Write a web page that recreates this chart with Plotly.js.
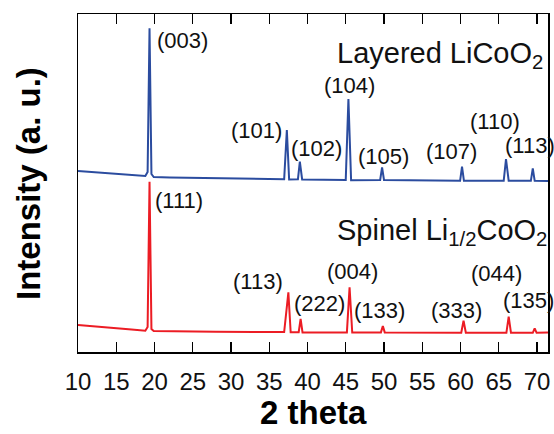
<!DOCTYPE html>
<html>
<head>
<meta charset="utf-8">
<script src="https://cdn.plot.ly/plotly-3.0.1.min.js"></script>
<style>html,body{margin:0;padding:0;background:#fff;}#chart{width:554px;height:434px;}</style>
</head>
<body>
<div id="chart"></div>
<script>
// Layered LiCoO2 pattern (2 theta, intensity a.u.)
var layeredX = [10, 12, 15, 17, 18.8, 19.1, 19.35, 19.6, 19.9, 22, 25, 30, 34, 36.95, 37.3, 37.6, 38.75, 39.0, 39.3, 42, 45.0, 45.35, 45.7, 49.5, 49.75, 50.0, 53, 54, 57, 59.95, 60.2, 60.45, 63, 65.65, 65.95, 66.3, 69.2, 69.45, 69.7, 71.44];
var layeredY = [181, 180, 178.5, 177.5, 176, 180, 323.7, 178, 175, 174.5, 174.3, 173.5, 173, 172.8, 222, 172.5, 172.7, 190.3, 172.5, 172.3, 172, 253, 171.8, 172, 184.7, 172, 171.8, 171, 171.2, 171.2, 185.3, 171.2, 171.2, 171.2, 193, 171.2, 171.2, 183.7, 171.2, 171];

// Spinel Li1/2CoO2 pattern
var spinelX = [10, 12, 15, 17, 18.8, 19.1, 19.35, 19.6, 19.9, 22, 28, 33, 36.95, 37.5, 37.8, 38.85, 39.1, 39.35, 42, 45.15, 45.5, 45.85, 49.6, 49.85, 50.1, 54, 55, 60.1, 60.4, 60.7, 66.0, 66.3, 66.6, 69.45, 69.7, 69.95, 71.44];
var spinelY = [27, 25.5, 24, 22.5, 21.3, 25, 170.3, 23, 21, 21, 20.3, 20, 20, 59.7, 19.8, 19.8, 33, 19.5, 19.6, 19.6, 64.7, 19.5, 19.6, 26, 19.6, 19.5, 19, 19.2, 31.3, 19.2, 19.2, 35.3, 19.2, 19.2, 23.7, 19.2, 19.5];

// Peak index labels
var layeredLabels = ["(003)", "(101)", "(102)", "(104)", "(105)", "(107)", "(110)", "(113)"];
var spinelLabels  = ["(111)", "(113)", "(222)", "(004)", "(133)", "(333)", "(044)", "(135)"];
var xTickVals = [10, 15, 20, 25, 30, 35, 40, 45, 50, 55, 60, 65, 70];

// label placement (data coords)
var layeredLabelPos = [[23.66, 312], [33.33, 222], [41.17, 203.7], [45.5, 267], [49.92, 195.3], [58.8, 200.3], [64.55, 230.3], [69.1, 207]];
var spinelLabelPos  = [[23.26, 152], [33.55, 70.3], [41.6, 48.7], [45.83, 80.3], [49.43, 42], [59.5, 42], [64.67, 78.7], [68.9, 52]];

var FONT = "Liberation Sans, Arial, sans-serif";
var annotations = [];
function addLabels(labels, pos) {
  for (var i = 0; i < labels.length; i++) {
    annotations.push({x: pos[i][0], y: pos[i][1], xref: 'x', yref: 'y', text: labels[i],
      showarrow: false, xanchor: 'center', yanchor: 'middle',
      font: {family: FONT, size: 22, color: '#111'}});
  }
}
addLabels(layeredLabels, layeredLabelPos);
addLabels(spinelLabels, spinelLabelPos);

annotations.push({x: 43.64, y: 297, xref: 'x', yref: 'y', text: 'Layered LiCoO<sub>2</sub>', showarrow: false,
  xanchor: 'left', yanchor: 'middle', font: {family: FONT, size: 29, color: '#111'}});
annotations.push({x: 43.64, y: 120, xref: 'x', yref: 'y', text: 'Spinel Li<sub>1/2</sub>CoO<sub>2</sub>', showarrow: false,
  xanchor: 'left', yanchor: 'middle', font: {family: FONT, size: 29, color: '#111'}});
annotations.push({x: -0.1064, y: 0.5, xref: 'paper', yref: 'paper', text: '<b>Intensity (a. u.)</b>', showarrow: false,
  textangle: -90, xanchor: 'center', yanchor: 'middle', font: {family: FONT, size: 33, color: '#000'}});
annotations.push({x: 0.5, y: -0.18, xref: 'paper', yref: 'paper', text: '<b>2 theta</b>', showarrow: false,
  xanchor: 'center', yanchor: 'middle', font: {family: FONT, size: 33, color: '#000'}});

var data = [
  {x: layeredX, y: layeredY, type: 'scatter', mode: 'lines', name: 'Layered LiCoO2',
   line: {color: '#2b4c9f', width: 2}, hoverinfo: 'skip'},
  {x: spinelX, y: spinelY, type: 'scatter', mode: 'lines', name: 'Spinel Li1/2CoO2',
   line: {color: '#ec1c24', width: 2}, hoverinfo: 'skip'}
];

var layout = {
  width: 554, height: 434,
  margin: {l: 78, r: 6, t: 14, b: 82},
  paper_bgcolor: '#fff', plot_bgcolor: '#fff',
  showlegend: false,
  xaxis: {range: [10, 71.44], tickvals: xTickVals, ticktext: xTickVals.map(String),
    ticks: 'inside', ticklen: 10, tickwidth: 1.3, tickcolor: '#000',
    showline: true, linecolor: '#000', linewidth: 1.5, mirror: 'ticks',
    showgrid: false, zeroline: false, ticklabelstandoff: 8,
    tickfont: {family: FONT, size: 24, color: '#111'}},
  yaxis: {range: [0, 338], showticklabels: false, ticks: '',
    showline: true, linecolor: '#000', linewidth: 1.5, mirror: true,
    showgrid: false, zeroline: false},
  annotations: annotations
};

Plotly.newPlot('chart', data, layout, {displayModeBar: false, staticPlot: true});
</script>
</body>
</html>
